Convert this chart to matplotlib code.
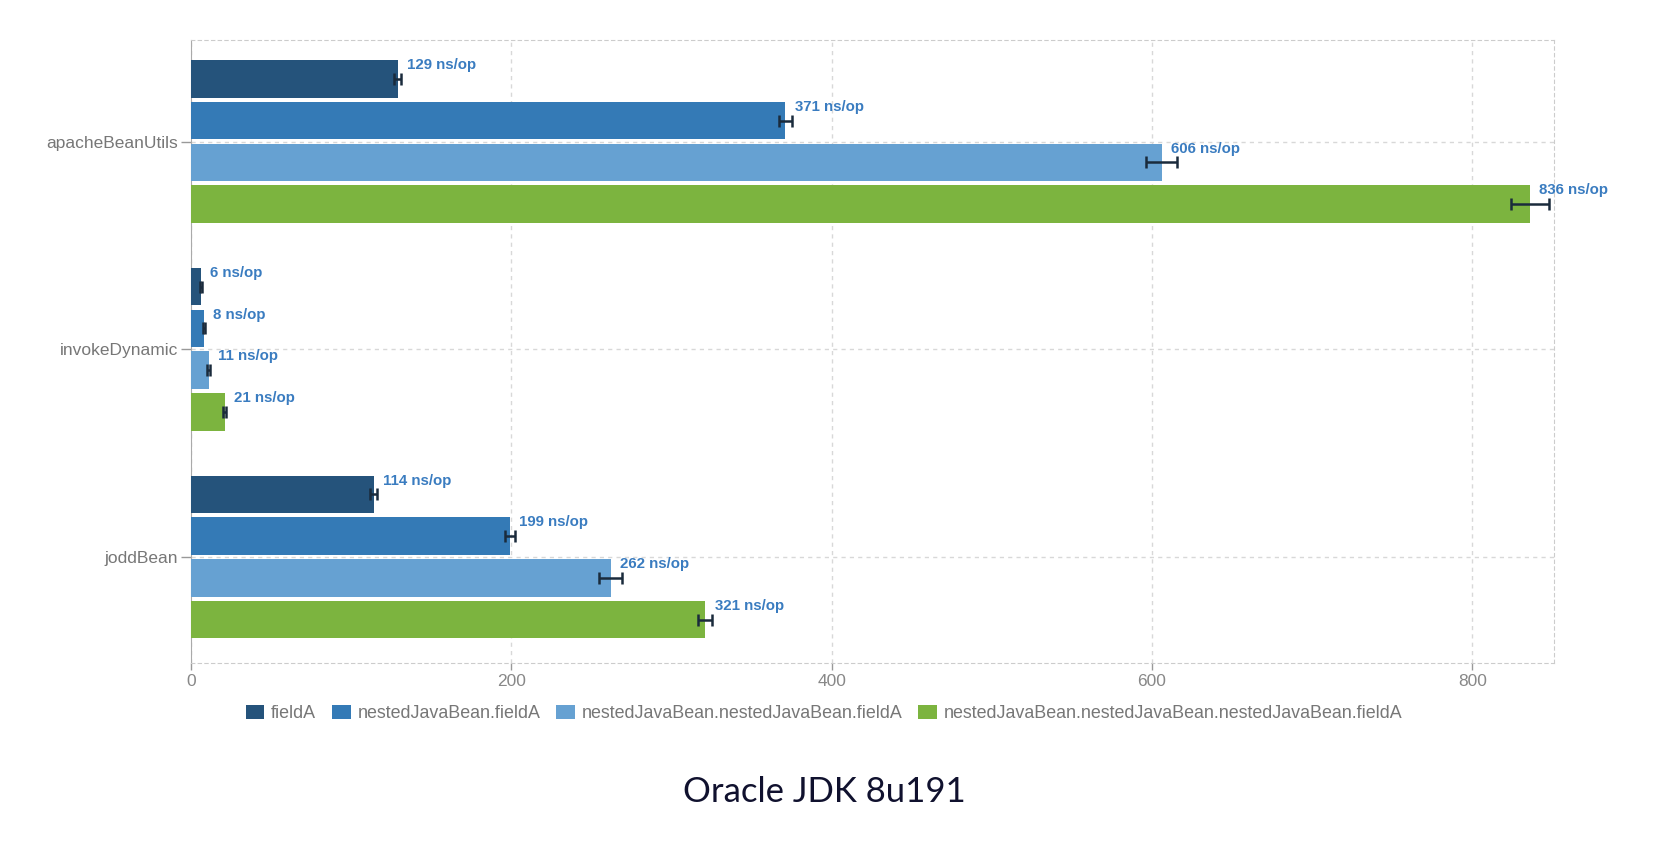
import numpy as np
import matplotlib.pyplot as plt

# benchmark results (ns/op) per library, four access paths each
libraries = ['apacheBeanUtils', 'invokeDynamic', 'joddBean']
series = ['fieldA',
          'nestedJavaBean.fieldA',
          'nestedJavaBean.nestedJavaBean.fieldA',
          'nestedJavaBean.nestedJavaBean.nestedJavaBean.fieldA']
scores = [[129, 371, 606, 836],
          [6, 8, 11, 21],
          [114, 199, 262, 321]]
errors = [[2, 4, 9.5, 12],
          [0.6, 0.6, 0.8, 1],
          [2, 3, 7, 4.5]]
colors = ['#25537b', '#347ab6', '#66a1d2', '#7cb43f']
title = 'Oracle JDK 8u191'

plt.rcParams['font.family'] = ['Liberation Sans', 'DejaVu Sans']

fig = plt.figure(figsize=(16.6, 8.42), dpi=100)
ax = fig.add_axes([0.1151, 0.2129, 0.9361 - 0.1151, 0.9525 - 0.2129])

pitch = 0.2013
height = 0.1805
y = np.arange(len(libraries))
for j, name in enumerate(series):
    vals = [row[j] for row in scores]
    errs = [row[j] for row in errors]
    pos = y + (j - 1.5) * pitch
    ax.barh(pos, vals, height=height, color=colors[j], label=name, zorder=3)
    ax.errorbar(vals, pos, xerr=errs, fmt='none', ecolor='#1a2b3c',
                elinewidth=1.8, capsize=4, capthick=1.8, zorder=4)
    for v, p in zip(vals, pos):
        ax.annotate(f'{v} ns/op', xy=(v, p - height / 2), xytext=(6.8, -3.6),
                    textcoords='offset points', va='center', ha='left',
                    fontsize=10.8, fontweight='bold', color='#3a7cc0', zorder=5)

ax.set_xlim(0, 851)
ax.set_ylim(2.509, -0.4887)
ax.set_yticks(y)
ax.set_yticklabels(libraries)
ax.set_xticks([0, 200, 400, 600, 800])
ax.tick_params(axis='y', length=7.5, width=1, color='#999999', pad=2,
               labelsize=12.5, labelcolor='#777777')
ax.tick_params(axis='x', length=5, width=1, color='#999999', pad=3,
               labelsize=12.5, labelcolor='#888888')
ax.grid(True, linestyle=(0, (3, 3)), color='#d8d8d8', linewidth=1, zorder=0)
ax.spines['left'].set_color('#aaaaaa')
for s in ['top', 'right', 'bottom']:
    ax.spines[s].set_linestyle((0, (3, 3)))
    ax.spines[s].set_color('#cccccc')

fig.legend(loc='center', bbox_to_anchor=(0.4964, 0.1526), ncol=4, frameon=False,
           fontsize=12.9, labelcolor='#777777', handlelength=1.05, handleheight=0.85,
           handletextpad=0.36, columnspacing=0.9)

fig.text(0.4964, 1 - 792 / 842, title, ha='center', va='center',
         fontsize=25, color='#10112e', family=['Lato', 'DejaVu Sans'])

fig.savefig('out.png', dpi=100)
